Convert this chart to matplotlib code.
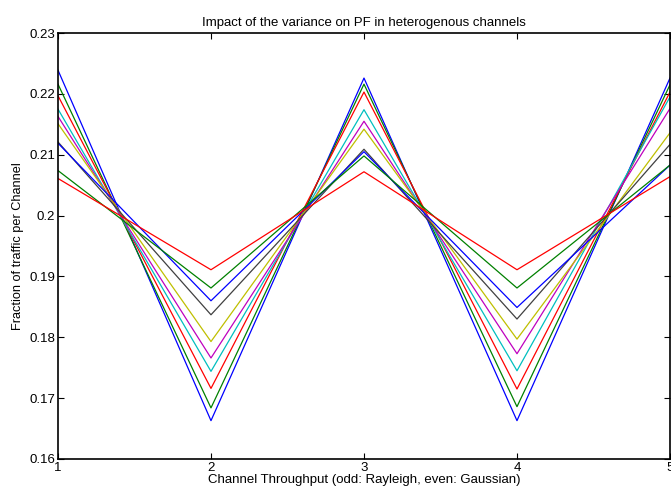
import matplotlib
matplotlib.use('Agg')
import matplotlib.pyplot as plt

# channel index (odd: Rayleigh, even: Gaussian)
channels = [1, 2, 3, 4, 5]

# fraction of traffic per channel, one run per variance setting
run1 = [0.2239, 0.1663, 0.2226, 0.1663, 0.2226]
run2 = [0.2216, 0.1684, 0.2216, 0.1686, 0.2215]
run3 = [0.2197, 0.1716, 0.2203, 0.1715, 0.2203]
run4 = [0.2175, 0.1744, 0.2174, 0.1745, 0.2195]
run5 = [0.2163, 0.1766, 0.2155, 0.1773, 0.2176]
run6 = [0.2151, 0.1793, 0.2142, 0.1797, 0.2136]
run7 = [0.2121, 0.1837, 0.2109, 0.1830, 0.2117]
run8 = [0.2119, 0.1860, 0.2105, 0.1849, 0.2083]
run9 = [0.2074, 0.1881, 0.2098, 0.1881, 0.2083]
run10 = [0.2061, 0.1911, 0.2072, 0.1911, 0.2064]

runs = [run1, run2, run3, run4, run5, run6, run7, run8, run9, run10]

# matlab default colour order: b g r c m y k
colours = ['#0000ff', '#008000', '#ff0000', '#00bfbf', '#bf00bf',
           '#bfbf00', '#404040', '#0000ff', '#008000', '#ff0000']

plt.rcParams['font.family'] = ['Liberation Sans', 'DejaVu Sans']

fig = plt.figure(figsize=(6.71, 4.87), dpi=100)
ax = fig.add_axes([0.0864, 0.0575, 0.9121, 0.8747])

for vals, c in zip(runs, colours):
    ax.plot(channels, vals, color=c, linewidth=0.9)

ax.set_xlim(1, 5)
ax.set_ylim(0.16, 0.23)
ax.set_xticks(channels)
ax.set_yticks([0.16, 0.17, 0.18, 0.19, 0.2, 0.21, 0.22, 0.23])
ax.set_yticklabels(['0.16', '0.17', '0.18', '0.19', '0.2', '0.21', '0.22', '0.23'])
ax.tick_params(direction='in', length=4, width=0.8, labelsize=9.5,
               top=True, right=True, pad=2)
for sp in ax.spines.values():
    sp.set_linewidth(1.2)

ax.set_title('Impact of the variance on PF in heterogenous channels', fontsize=9.5, pad=5)
ax.set_xlabel('Channel Throughput (odd: Rayleigh, even: Gaussian)', fontsize=9.5, labelpad=0)
ax.set_ylabel('Fraction of traffic per Channel', fontsize=9.2, labelpad=4)

fig.savefig('out.png', dpi=100)
